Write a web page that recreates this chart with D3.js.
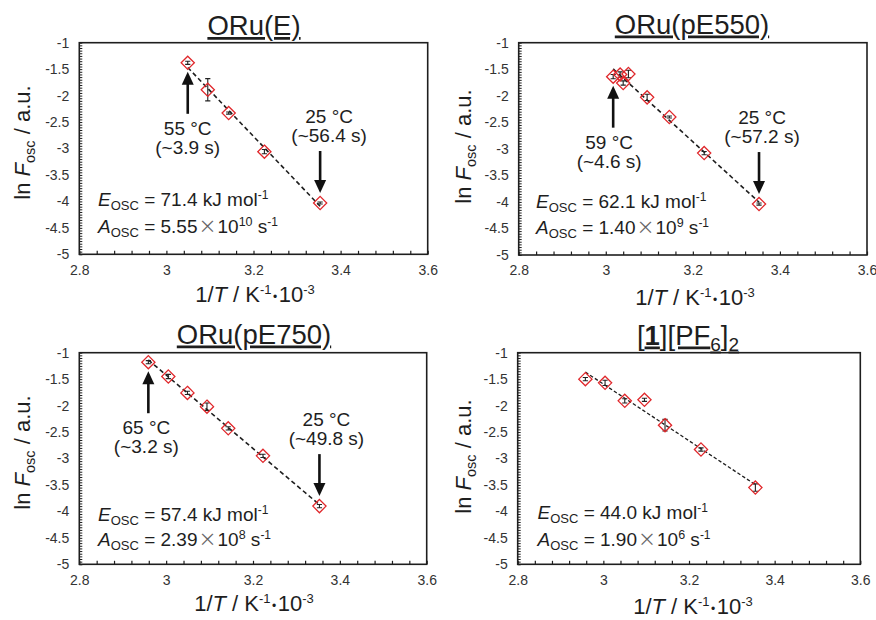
<!DOCTYPE html>
<html>
<head>
<meta charset="utf-8">
<script src="https://cdn.jsdelivr.net/npm/d3@7"></script>
<style>
  html, body { margin: 0; padding: 0; background: #fff; }
  svg text { font-family: "Liberation Sans", Arial, Helvetica, sans-serif; }
</style>
</head>
<body>
<svg id="chart" width="876" height="620"></svg>
<script>
// ---- Arrhenius data: ln(F_osc) vs 1/T (10^-3 K^-1), mean ± error ----
const oruE_invT = [3.049, 3.095, 3.143, 3.225, 3.353];
const oruE_lnF  = [-1.38, -1.89, -2.33, -3.06, -4.03];
const oruE_err  = [0.03, 0.21, 0.02, 0.04, 0.02];

const pE550_invT = [3.017, 3.033, 3.040, 3.052, 3.095, 3.146, 3.226, 3.352];
const pE550_lnF  = [-1.64, -1.60, -1.76, -1.59, -2.03, -2.40, -3.08, -4.04];
const pE550_err  = [0.04, 0.05, 0.04, 0.07, 0.06, 0.02, 0.03, 0.02];

const pE750_invT = [2.959, 3.005, 3.049, 3.094, 3.143, 3.223, 3.353];
const pE750_lnF  = [-1.18, -1.45, -1.76, -2.02, -2.43, -2.95, -3.90];
const pE750_err  = [0.03, 0.04, 0.03, 0.07, 0.03, 0.03, 0.03];

const pf6_invT = [2.958, 3.004, 3.050, 3.096, 3.144, 3.228, 3.355];
const pf6_lnF  = [-1.50, -1.57, -1.91, -1.89, -2.37, -2.83, -3.55];
const pf6_err  = [0.03, 0.05, 0.04, 0.03, 0.11, 0.03, 0.07];

// ---- axis ticks ----
const xTicks = [2.8, 3.0, 3.2, 3.4, 3.6];
const yTicks = [-1, -1.5, -2, -2.5, -3, -3.5, -4, -4.5, -5];

// ---- text ----
const panelTitles = [
  [{t: "ORu(E)"}],
  [{t: "ORu(pE550)"}],
  [{t: "ORu(pE750)"}],
  [{t: "["}, {t: "1", b: true}, {t: "][PF"}, {t: "6", sub: true}, {t: "]"}, {t: "2", sub: true}]
];
const activationE = ["71.4", "62.1", "57.4", "44.0"];
const preFactorMant = ["5.55", "1.40", "2.39", "1.90"];
const preFactorExp = ["10", "9", "8", "6"];
const hotLabels  = [["55 °C", "(~3.9 s)"], ["59 °C", "(~4.6 s)"], ["65 °C", "(~3.2 s)"], null];
const coldLabels = [["25 °C", "(~56.4 s)"], ["25 °C", "(~57.2 s)"], ["25 °C", "(~49.8 s)"], null];

const series = [
  {xs: oruE_invT,  ys: oruE_lnF,  es: oruE_err},
  {xs: pE550_invT, ys: pE550_lnF, es: pE550_err},
  {xs: pE750_invT, ys: pE750_lnF, es: pE750_err},
  {xs: pf6_invT,   ys: pf6_lnF,   es: pf6_err}
];

// ---- panel layout (pixels) ----
const layout = [
  {x0: 79.3, x1: 427.7, y0: 42.7, y1: 254.3, title: [254, 35], xt: [255, 302], yt: [30, 142.5],
   eq: [98, 206, 233], hotDx: 0, coldDx: 9, dash: "4.5,3", lw: 1.6},
  {x0: 518.7, x1: 867, y0: 42.7, y1: 255, title: [692, 33.5], xt: [695, 305], yt: [471, 146.5],
   eq: [536, 208, 234], hotDx: -4, coldDx: 3, dash: "4.5,3", lw: 1.6},
  {x0: 79.3, x1: 426.7, y0: 352.7, y1: 564.3, title: [254, 343.5], xt: [254, 611], yt: [30, 452.5],
   eq: [98, 520.5, 545.5], hotDx: -2, coldDx: 7, dash: "4.5,3", lw: 1.6},
  {x0: 517.7, x1: 860.3, y0: 352.7, y1: 564.3, title: [688, 344.5], xt: [693, 614], yt: [471, 456.5],
   eq: [537.5, 519, 545.5], hotDx: 0, coldDx: 0, dash: "3.5,2.2", lw: 1.3}
];

const svg = d3.select("#chart");
const INK = "#1e1e1e";
const RED = "#e0272b";

// Append tspans with their own size/style and vertical shift (shift in px, + is down)
function rich(textSel, parts, baseSize) {
  let cur = 0;
  parts.forEach(p => {
    const sh = p.sh || 0;
    const ts = textSel.append("tspan")
      .attr("dy", sh - cur)
      .attr("font-size", p.fs || baseSize)
      .text(p.t);
    cur = sh;
    if (p.it) ts.attr("font-style", "italic");
    if (p.b) ts.attr("font-weight", "bold");
    if (p.fill) ts.attr("fill", p.fill);
    if (p.fam) ts.style("font-family", p.fam);
    if (p.dx) ts.attr("dx", p.dx);
  });
  return textSel;
}

const fmtTick = d => (+d.toFixed(1)).toString();

const yMinor = d3.range(0, 81).map(i => -5 + i * 0.05);
const xMinor = d3.range(0, 21).map(i => 2.8 + i * 0.04);

series.forEach((s, k) => {
  const L = layout[k];
  const g = svg.append("g");
  const x = d3.scaleLinear().domain([2.8, 3.6]).range([L.x0, L.x1]);
  const y = d3.scaleLinear().domain([-5, -1]).range([L.y1, L.y0]);

  // inward minor ticks
  g.append("g").attr("transform", `translate(${L.x0},0)`)
    .call(d3.axisLeft(y).tickValues(yMinor).tickSizeInner(-3).tickSizeOuter(0).tickFormat(""))
    .call(a => a.select(".domain").remove())
    .call(a => a.selectAll("line").attr("stroke", INK).attr("stroke-width", 1));
  g.append("g").attr("transform", `translate(0,${L.y1})`)
    .call(d3.axisBottom(x).tickValues(xMinor).tickSizeInner(-3.5).tickSizeOuter(0).tickFormat(""))
    .call(a => a.select(".domain").remove())
    .call(a => a.selectAll("line").attr("stroke", INK).attr("stroke-width", 1.2));

  // tick labels
  g.append("g").attr("transform", `translate(${L.x0},0)`)
    .call(d3.axisLeft(y).tickValues(yTicks).tickSize(0).tickPadding(10).tickFormat(fmtTick))
    .call(a => a.select(".domain").remove())
    .call(a => a.selectAll("text").attr("font-size", 14).attr("fill", "#333")
      .style("font-family", '"Liberation Sans", Arial, sans-serif'));
  g.append("g").attr("transform", `translate(0,${L.y1})`)
    .call(d3.axisBottom(x).tickValues(xTicks).tickSize(0).tickPadding(10.5).tickFormat(fmtTick))
    .call(a => a.select(".domain").remove())
    .call(a => a.selectAll("text").attr("font-size", 14).attr("fill", "#333")
      .style("font-family", '"Liberation Sans", Arial, sans-serif'));

  // frame
  g.append("rect")
    .attr("x", L.x0).attr("y", L.y0)
    .attr("width", L.x1 - L.x0).attr("height", L.y1 - L.y0)
    .attr("fill", "none").attr("stroke", INK).attr("stroke-width", 1.6);

  // least-squares fit line over the measured range
  const n = s.xs.length;
  const mx = d3.mean(s.xs), my = d3.mean(s.ys);
  let sxy = 0, sxx = 0;
  for (let i = 0; i < n; i++) {
    sxy += (s.xs[i] - mx) * (s.ys[i] - my);
    sxx += (s.xs[i] - mx) ** 2;
  }
  const slope = sxy / sxx, icpt = my - slope * mx;
  const [xa, xb] = d3.extent(s.xs);
  g.append("line")
    .attr("x1", x(xa)).attr("y1", y(icpt + slope * xa))
    .attr("x2", x(xb)).attr("y2", y(icpt + slope * xb))
    .attr("stroke", INK).attr("stroke-width", L.lw).attr("stroke-dasharray", L.dash);

  // error bars
  const pts = s.xs.map((v, i) => ({x: v, y: s.ys[i], e: s.es[i]}));
  const eb = g.append("g").attr("stroke", "#222").attr("stroke-width", 1.1).attr("fill", "none");
  pts.forEach(p => {
    const cx = x(p.x), ya = y(p.y + p.e), yb = y(p.y - p.e);
    eb.append("path").attr("d", `M${cx},${ya}V${yb}M${cx - 2.6},${ya}H${cx + 2.6}M${cx - 2.6},${yb}H${cx + 2.6}`);
  });

  // diamond markers
  const r = 6.6;
  g.append("g").selectAll("path").data(pts).join("path")
    .attr("d", p => {
      const cx = x(p.x), cy = y(p.y);
      return `M${cx},${cy - r}L${cx + r},${cy}L${cx},${cy + r}L${cx - r},${cy}Z`;
    })
    .attr("fill", "none").attr("stroke", RED).attr("stroke-width", 1.3);

  // arrows with temperature / period labels
  const arrow = (px, tipY, dir) => {
    const len = 42, hl = 13, hw = 6;
    const tailY = tipY + dir * len;
    g.append("line").attr("x1", px).attr("x2", px)
      .attr("y1", tailY).attr("y2", tipY + dir * (hl - 1))
      .attr("stroke", "#111").attr("stroke-width", 2.6);
    g.append("path")
      .attr("d", `M${px},${tipY}L${px + hw},${tipY + dir * hl}L${px - hw},${tipY + dir * hl}Z`)
      .attr("fill", "#111");
    return tailY;
  };
  if (hotLabels[k]) {
    const i = d3.minIndex(s.xs);
    const px = x(s.xs[i]), py = y(s.ys[i]);
    const tail = arrow(px, py + 9, 1);
    hotLabels[k].forEach((t, j) => {
      g.append("text").attr("x", px + L.hotDx).attr("y", tail + 21 + j * 19)
        .attr("text-anchor", "middle").attr("font-size", 19).attr("fill", INK).text(t);
    });
  }
  if (coldLabels[k]) {
    const i = d3.maxIndex(s.xs);
    const px = x(s.xs[i]), py = y(s.ys[i]);
    const tail = arrow(px, py - 10, -1);
    coldLabels[k].forEach((t, j) => {
      g.append("text").attr("x", px + L.coldDx).attr("y", tail - 28 + j * 19)
        .attr("text-anchor", "middle").attr("font-size", 19).attr("fill", INK).text(t);
    });
  }

  // activation energy and pre-exponential factor
  rich(g.append("text").attr("x", L.eq[0]).attr("y", L.eq[1]).attr("fill", INK), [
    {t: "E", it: true},
    {t: "OSC", fs: 13, sh: 4},
    {t: " = " + activationE[k] + " kJ mol"},
    {t: "-1", fs: 12, sh: -7}
  ], 19);
  rich(g.append("text").attr("x", L.eq[0]).attr("y", L.eq[2]).attr("fill", INK), [
    {t: "A", it: true},
    {t: "OSC", fs: 13, sh: 4},
    {t: " = " + preFactorMant[k]},
    {t: "×", fs: 18, fill: "#666", fam: '"Noto Sans CJK JP", "DejaVu Sans", sans-serif', dx: 1},
    {t: "10", dx: 1},
    {t: preFactorExp[k], fs: 12.5, sh: -7},
    {t: " s"},
    {t: "-1", fs: 12, sh: -7}
  ], 19);

  // panel title (underlined)
  const tt = g.append("text").attr("x", L.title[0]).attr("y", L.title[1])
    .attr("text-anchor", "middle").attr("fill", INK)
    .style("text-decoration", "underline");
  rich(tt, panelTitles[k].map(p => p.sub ? {t: p.t, fs: 19, sh: 6} : {t: p.t, b: p.b}), 27.5);

  // axis titles
  rich(g.append("text").attr("x", L.xt[0]).attr("y", L.xt[1])
      .attr("text-anchor", "middle").attr("fill", INK), [
    {t: "1/"},
    {t: "T", it: true},
    {t: " / K"},
    {t: "-1", fs: 13, sh: -8},
    {t: "•", fs: 12, sh: -1, dx: 1.5},
    {t: "10", dx: 1.5},
    {t: "-3", fs: 13, sh: -8}
  ], 22);
  rich(g.append("text")
      .attr("transform", `translate(${L.yt[0]},${L.yt[1]}) rotate(-90)`)
      .attr("text-anchor", "middle").attr("fill", INK), [
    {t: "ln "},
    {t: "F", it: true},
    {t: "osc", fs: 14.5, sh: 5},
    {t: " / a.u."}
  ], 22);
});
</script>
</body>
</html>
